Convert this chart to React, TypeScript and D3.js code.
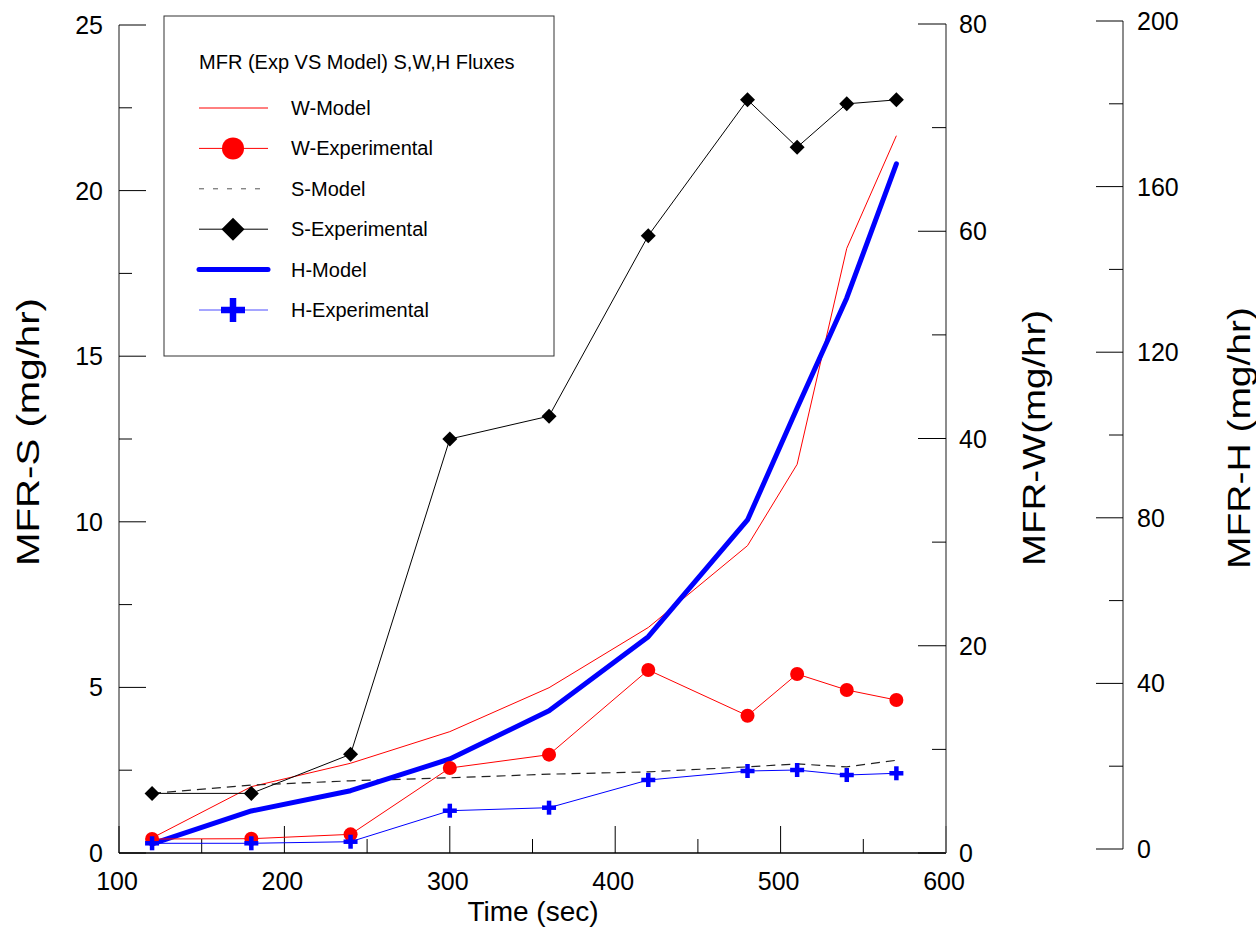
import React from "react";
import * as d3 from "d3";

const times = [120, 180, 240, 300, 360, 420, 480, 510, 540, 570];
const wModel = [1.45, 6.4, 8.66, 11.71, 15.95, 21.76, 29.66, 37.51, 58.35, 69.22];
const wExp = [1.35, 1.38, 1.8, 8.2, 9.49, 17.66, 13.25, 17.27, 15.73, 14.76];
const sModel = [1.8, 2.05, 2.18, 2.27, 2.38, 2.45, 2.6, 2.69, 2.6, 2.8];
const sExp = [1.8, 1.8, 2.98, 12.5, 13.19, 18.64, 22.74, 21.31, 22.62, 22.74];
const hModel = [1.21, 9.18, 14.08, 21.74, 33.4, 51.28, 79.47, 106.5, 133.1, 165.5];
const hExp = [1.38, 1.38, 1.76, 9.25, 9.98, 16.67, 18.84, 19.08, 17.87, 18.29];

const xMajor = [100, 200, 300, 400, 500, 600];
const xMinor = [150, 250, 350, 450, 550];
const sMajor = [0, 5, 10, 15, 20, 25];
const sMinor = [2.5, 7.5, 12.5, 17.5, 22.5];
const wMajor = [0, 20, 40, 60, 80];
const wMinor = [10, 30, 50, 70];
const hMajor = [0, 40, 80, 120, 160, 200];
const hMinor = [20, 60, 100, 140, 180];

const legendTitle = "MFR (Exp VS Model) S,W,H Fluxes";
const legendItems = ["W-Model", "W-Experimental", "S-Model", "S-Experimental", "H-Model", "H-Experimental"];

const FONT = "'Liberation Sans', Arial, sans-serif";

const x = d3.scaleLinear().domain([100, 600]).range([119, 946]);
const yS = d3.scaleLinear().domain([0, 25]).range([853, 25]);
const yW = d3.scaleLinear().domain([0, 80]).range([853, 24]);
const yH = d3.scaleLinear().domain([0, 200]).range([849, 21]);

function pathFor(vals: number[], y: d3.ScaleLinear<number, number>) {
  const gen = d3.line<number>().x((_, i) => x(times[i])).y((v) => y(v));
  return gen(vals) || "";
}

function Circle({ cx, cy, r }: { cx: number; cy: number; r: number }) {
  return <circle cx={cx} cy={cy} r={r} fill="#ff0000" />;
}
function Diamond({ cx, cy, r }: { cx: number; cy: number; r: number }) {
  return <path d={`M${cx},${cy - r}L${cx + r},${cy}L${cx},${cy + r}L${cx - r},${cy}Z`} fill="#000" />;
}
function Plus({ cx, cy, r, t }: { cx: number; cy: number; r: number; t: number }) {
  return (
    <g fill="#0000ff">
      <rect x={cx - r} y={cy - t / 2} width={2 * r} height={t} />
      <rect x={cx - t / 2} y={cy - r} width={t} height={2 * r} />
    </g>
  );
}

export default function App() {
  const axisColor = "#666";
  const tickFont = 25;
  return (
    <svg width={1256} height={930} style={{ position: "absolute", left: 0, top: 0, background: "#fff" }} fontFamily={FONT}>
      {/* Left S axis */}
      <line x1={119} x2={119} y1={yS(25)} y2={yS(0)} stroke={axisColor} strokeWidth={1.5} />
      {sMajor.map((v) => (
        <g key={"sM" + v}>
          <line x1={119} x2={146} y1={yS(v)} y2={yS(v)} stroke="#000" strokeWidth={1} />
          <text x={103} y={yS(v)} dy="0.36em" textAnchor="end" fontSize={tickFont}>{v}</text>
        </g>
      ))}
      {sMinor.map((v) => (
        <line key={"sm" + v} x1={119} x2={132} y1={yS(v)} y2={yS(v)} stroke="#000" strokeWidth={1} />
      ))}
      {/* Bottom axis */}
      <line x1={119} x2={946} y1={853} y2={853} stroke="#000" strokeWidth={1.5} />
      {xMajor.map((v) => (
        <g key={"xM" + v}>
          <line x1={x(v)} x2={x(v)} y1={853} y2={826} stroke="#000" strokeWidth={1} />
          <text x={x(v) - 2} y={890} textAnchor="middle" fontSize={tickFont}>{v}</text>
        </g>
      ))}
      {xMinor.map((v) => (
        <line key={"xm" + v} x1={x(v)} x2={x(v)} y1={853} y2={839} stroke="#000" strokeWidth={1} />
      ))}
      <text x={533} y={921} textAnchor="middle" fontSize={28}>Time (sec)</text>
      <text transform="translate(39,432) rotate(-90)" textAnchor="middle" fontSize={31} textLength={268} lengthAdjust="spacingAndGlyphs">MFR-S (mg/hr)</text>

      {/* W axis */}
      <line x1={946} x2={946} y1={yW(80)} y2={yW(0)} stroke={axisColor} strokeWidth={1.5} />
      {wMajor.map((v) => (
        <g key={"wM" + v}>
          <line x1={918} x2={946} y1={yW(v)} y2={yW(v)} stroke="#000" strokeWidth={1} />
          <text x={959} y={yW(v)} dy="0.36em" textAnchor="start" fontSize={tickFont}>{v}</text>
        </g>
      ))}
      {wMinor.map((v) => (
        <line key={"wm" + v} x1={932} x2={946} y1={yW(v)} y2={yW(v)} stroke="#000" strokeWidth={1} />
      ))}
      <text transform="translate(1045,438) rotate(-90)" textAnchor="middle" fontSize={31} textLength={256} lengthAdjust="spacingAndGlyphs">MFR-W(mg/hr)</text>

      {/* H axis */}
      <line x1={1123} x2={1123} y1={yH(200)} y2={yH(0)} stroke={axisColor} strokeWidth={1.5} />
      {hMajor.map((v) => (
        <g key={"hM" + v}>
          <line x1={1096} x2={1123} y1={yH(v)} y2={yH(v)} stroke="#000" strokeWidth={1} />
          <text x={1137} y={yH(v)} dy="0.36em" textAnchor="start" fontSize={tickFont}>{v}</text>
        </g>
      ))}
      {hMinor.map((v) => (
        <line key={"hm" + v} x1={1109} x2={1123} y1={yH(v)} y2={yH(v)} stroke="#000" strokeWidth={1} />
      ))}
      <text transform="translate(1250,438) rotate(-90)" textAnchor="middle" fontSize={31} textLength={262} lengthAdjust="spacingAndGlyphs">MFR-H (mg/hr)</text>

      {/* Series */}
      <path d={pathFor(wModel, yW)} fill="none" stroke="#ff0000" strokeWidth={1} />
      <path d={pathFor(sModel, yS)} fill="none" stroke="#222" strokeWidth={1.2} strokeDasharray="9,6" />
      <path d={pathFor(sExp, yS)} fill="none" stroke="#000" strokeWidth={1} />
      {sExp.map((v, i) => (
        <Diamond key={"sd" + i} cx={x(times[i])} cy={yS(v)} r={7.5} />
      ))}
      <path d={pathFor(hModel, yH)} fill="none" stroke="#0000ff" strokeWidth={5} strokeLinejoin="round" strokeLinecap="round" />
      <path d={pathFor(wExp, yW)} fill="none" stroke="#ff0000" strokeWidth={1} />
      {wExp.map((v, i) => (
        <Circle key={"wc" + i} cx={x(times[i])} cy={yW(v)} r={7} />
      ))}
      <path d={pathFor(hExp, yH)} fill="none" stroke="#0000ff" strokeWidth={1} />
      {hExp.map((v, i) => (
        <Plus key={"hp" + i} cx={x(times[i])} cy={yH(v)} r={7} t={4.5} />
      ))}

      {/* Legend */}
      <rect x={164} y={16} width={390} height={340} fill="#fff" stroke="#333" strokeWidth={1} />
      <text x={199} y={69} fontSize={20}>{legendTitle}</text>
      {legendItems.map((name, i) => {
        const ly = 108 + i * 40.4;
        let line: React.ReactNode = null;
        let marker: React.ReactNode = null;
        if (i === 0) line = <line x1={199} x2={268} y1={ly} y2={ly} stroke="#ff0000" strokeWidth={1} />;
        if (i === 1) {
          line = <line x1={199} x2={268} y1={ly} y2={ly} stroke="#ff0000" strokeWidth={1} />;
          marker = <Circle cx={233} cy={ly} r={11} />;
        }
        if (i === 2) line = <line x1={199} x2={268} y1={ly} y2={ly} stroke="#555" strokeWidth={1} strokeDasharray="5,9" />;
        if (i === 3) {
          line = <line x1={199} x2={268} y1={ly} y2={ly} stroke="#000" strokeWidth={1} />;
          marker = <Diamond cx={233} cy={ly} r={11.5} />;
        }
        if (i === 4) line = <line x1={199} x2={268} y1={ly} y2={ly} stroke="#0000ff" strokeWidth={5} strokeLinecap="round" />;
        if (i === 5) {
          line = <line x1={199} x2={268} y1={ly} y2={ly} stroke="#4d4dff" strokeWidth={1} />;
          marker = <Plus cx={233} cy={ly} r={12} t={6.5} />;
        }
        return (
          <g key={name}>
            {line}
            {marker}
            <text x={291} y={ly + 7} fontSize={20}>{name}</text>
          </g>
        );
      })}
    </svg>
  );
}
